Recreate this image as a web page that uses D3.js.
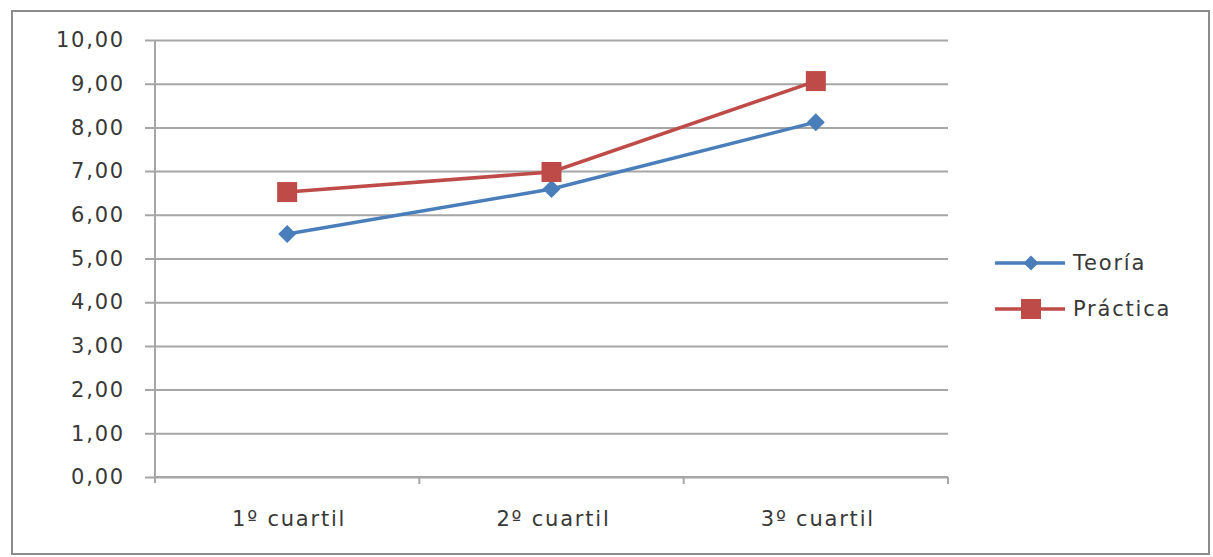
<!DOCTYPE html>
<html>
<head>
<meta charset="utf-8">
<script src="https://cdn.jsdelivr.net/npm/d3@7"></script>
<style>
  body { margin: 0; background: #fff; }
  text { font-family: "DejaVu Sans", "Open Sans", sans-serif; fill: #383838; letter-spacing: 1.8px; }
</style>
</head>
<body>
<div id="chart"></div>
<script>
const width = 1213;
const height = 557;

// data
const categories = ["1º cuartil", "2º cuartil", "3º cuartil"];
const teoria = [5.56, 6.59, 8.12];
const practica = [6.52, 6.98, 9.06];
const yTicks = [0, 1, 2, 3, 4, 5, 6, 7, 8, 9, 10];
const seriesNames = ["Teoría", "Práctica"];

const series = [
    { name: seriesNames[0], values: teoria, color: "#4a7ebb", marker: "diamond" },
    { name: seriesNames[1], values: practica, color: "#be4b48", marker: "square" }
];

const svg = d3.select("#chart")
    .append("svg")
    .attr("width", width)
    .attr("height", height);

// outer frame
svg.append("rect")
    .attr("x", 12).attr("y", 11)
    .attr("width", 1197).attr("height", 543)
    .attr("fill", "#fff")
    .attr("stroke", "#8c8c8c")
    .attr("stroke-width", 2);

const plot = { left: 155, right: 948, top: 40, bottom: 477 };

const x = d3.scaleBand()
    .domain(categories)
    .range([plot.left, plot.right]);

const y = d3.scaleLinear()
    .domain([0, 10])
    .range([plot.bottom, plot.top]);

const fmt = d => d.toFixed(2).replace(".", ",");

// gridlines + y labels
const yAxis = svg.append("g")
    .attr("transform", `translate(${plot.left},0)`)
    .call(d3.axisLeft(y).tickValues(yTicks).tickFormat(fmt)
        .tickSize(-(plot.right - plot.left)).tickPadding(30));
yAxis.select(".domain").remove();
yAxis.selectAll(".tick line")
    .attr("x1", -10)
    .attr("stroke", "#a6a6a6")
    .attr("stroke-width", 2);
yAxis.attr("font-family", null).attr("font-size", null);
yAxis.selectAll(".tick text")
    .style("font-size", "21px")
    .style("fill", "#383838");

// y axis line
svg.append("line")
    .attr("x1", plot.left).attr("x2", plot.left)
    .attr("y1", plot.top).attr("y2", plot.bottom + 6)
    .attr("stroke", "#a6a6a6").attr("stroke-width", 2);

// x axis with category ticks at band edges
const xAxis = svg.append("g")
    .attr("transform", `translate(0,${plot.bottom})`);
xAxis.append("line")
    .attr("x1", plot.left).attr("x2", plot.right)
    .attr("stroke", "#a6a6a6").attr("stroke-width", 2);
xAxis.selectAll(".edge")
    .data(categories)
    .enter().append("line")
    .attr("class", "edge")
    .attr("x1", d => x(d) + x.bandwidth()).attr("x2", d => x(d) + x.bandwidth())
    .attr("y1", 0).attr("y2", 7)
    .attr("stroke", "#a6a6a6").attr("stroke-width", 2);
xAxis.selectAll(".lbl")
    .data(categories)
    .enter().append("text")
    .attr("class", "lbl")
    .attr("x", d => x(d) + x.bandwidth() / 2 + 2)
    .attr("y", 49)
    .attr("text-anchor", "middle")
    .style("font-size", "21px")
    .text(d => d);

const line = d3.line()
    .x((d, i) => x(categories[i]) + x.bandwidth() / 2)
    .y(d => y(d));

function drawMarker(sel, type, color, size) {
    if (type === "square") {
        sel.append("rect")
            .attr("x", -size / 2).attr("y", -size / 2)
            .attr("width", size).attr("height", size)
            .attr("fill", color);
    } else {
        sel.append("path")
            .attr("d", `M0,${-size / 2}L${size / 2},0L0,${size / 2}L${-size / 2},0Z`)
            .attr("fill", color);
    }
}

series.forEach(s => {
    svg.append("path")
        .datum(s.values)
        .attr("fill", "none")
        .attr("stroke", s.color)
        .attr("stroke-width", 3.5)
        .attr("d", line);

    svg.selectAll(null)
        .data(s.values)
        .enter().append("g")
        .attr("transform", (d, i) => `translate(${x(categories[i]) + x.bandwidth() / 2},${y(d)})`)
        .each(function () {
            drawMarker(d3.select(this), s.marker, s.color, s.marker === "square" ? 20 : 18);
        });
});

// legend
const legend = svg.append("g").attr("transform", "translate(995,263)");
series.forEach((s, i) => {
    const row = legend.append("g").attr("transform", `translate(0,${i * 46})`);
    row.append("line")
        .attr("x1", 0).attr("x2", 70)
        .attr("stroke", s.color).attr("stroke-width", 3.5);
    const m = row.append("g").attr("transform", "translate(36,0)");
    drawMarker(m, s.marker, s.color, s.marker === "square" ? 20 : 15);
    row.append("text")
        .attr("x", 78).attr("y", 7)
        .style("font-size", "21px")
        .text(s.name);
});
</script>
</body>
</html>
